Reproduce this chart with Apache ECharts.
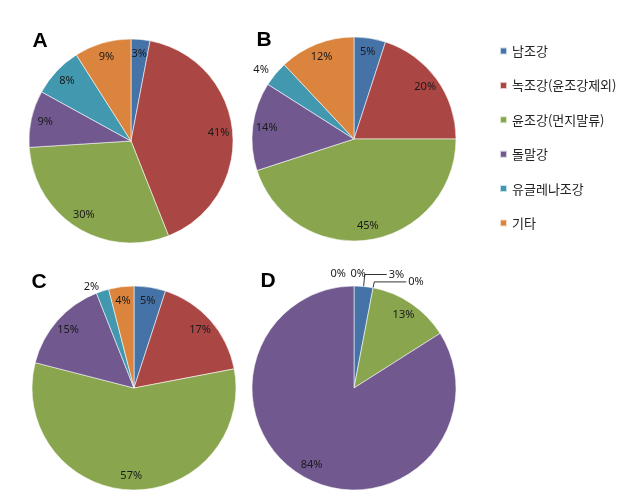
<!DOCTYPE html>
<html><head><meta charset="utf-8">
<script src="https://cdn.jsdelivr.net/npm/echarts@6/dist/echarts.min.js"></script>
<style>html,body{margin:0;padding:0;background:#fff}#c{width:622px;height:499px}</style>
</head><body><div id="c"></div>
<script>
const categories = ['남조강','녹조강(윤조강제외)','윤조강(먼지말류)','돌말강','유글레나조강','기타'];
const panelNames = ['A','B','C','D'];
const valuesA = [3,41,30,9,8,9];
const valuesB = [5,20,45,14,4,12];
const valuesC = [5,17,57,15,2,4];
const valuesD = [3,0,13,84,0,0];

const colors = ['#4572A7','#AA4643','#89A54E','#71588F','#4198AF','#DB843D'];
const R = 102;
const panels = [
  {name:'A', values:valuesA, center:[131,141], title:[40,41], outside:{}},
  {name:'B', values:valuesB, center:[354,139], title:[264,40], outside:{4:{length:6,length2:0,line:false}}},
  {name:'C', values:valuesC, center:[134,388], title:[39,282], outside:{4:{length:4,length2:0,line:false}}},
  {name:'D', values:valuesD, center:[354,388], title:[268,281], outside:{
      0:{length:12,length2:22,line:true},
      1:{length:6,length2:32,line:true},
      4:{length:12,length2:0,line:false,dx:-6},
      5:{length:12,length2:0,line:false,dx:14}}}
];

const labelFont = {fontFamily:'Noto Sans, Liberation Sans, sans-serif', fontSize:11, color:'#1a1a1a'};
const series = [];
panels.forEach(p => {
  series.push({
    type:'pie', name:p.name+'-slices', center:p.center, radius:[0,R],
    startAngle:90, clockwise:true, silent:true, animation:false,
    label:{show:false}, labelLine:{show:false},
    emphasis:{disabled:true},
    data: categories.map((n,i)=>({name:n, value:p.values[i], itemStyle:{
      color:colors[i],
      borderColor:'rgba(255,255,255,0.7)',
      borderWidth: p.values[i] > 0 ? 0.8 : 0
    }}))
  });
});
panels.forEach(p => {
  series.push({
    type:'pie', name:p.name+'-labels', center:p.center, radius:[68,R],
    startAngle:90, clockwise:true, silent:true, animation:false,
    avoidLabelOverlap:false,
    itemStyle:{color:'rgba(0,0,0,0)'},
    emphasis:{disabled:true},
    label:Object.assign({show:true, position:'inside', formatter:'{c}%', textBorderWidth:0}, labelFont),
    labelLine:{show:false},
    labelLayout: function(params){
      const o = p.outside[params.dataIndex];
      if (o && o.dx) return {dx:o.dx};
      return {};
    },
    data: categories.map((n,i)=>{
      const o = p.outside[i];
      const d = {name:n, value:p.values[i]};
      if (o) {
        d.label = {position:'outside', alignTo:'none', distanceToLabelLine:2};
        d.labelLine = {show:o.line, length:o.length, length2:o.length2, lineStyle:{color:'#000', width:0.8}};
      }
      return d;
    })
  });
});

const chart = echarts.init(document.getElementById('c'), null, {renderer:'canvas'});
chart.setOption({
  backgroundColor:'#fff',
  animation:false,
  color:colors,
  legend:{
    orient:'vertical', left:494, top:39, itemWidth:7, itemHeight:7, itemGap:20.4,
    icon:'rect', selectedMode:false,
    data:categories,
    textStyle:{fontFamily:'Noto Sans CJK KR', fontSize:13, lineHeight:14, color:'#222', padding:[0,0,0,0]}
  },
  graphic: panels.map(p=>({
    type:'text', x:p.title[0], y:p.title[1], silent:true,
    style:{text:p.name, font:'bold 21px Liberation Sans, Arial, sans-serif', fill:'#000', textAlign:'center', textVerticalAlign:'middle'}
  })),
  series: series
});
</script></body></html>
